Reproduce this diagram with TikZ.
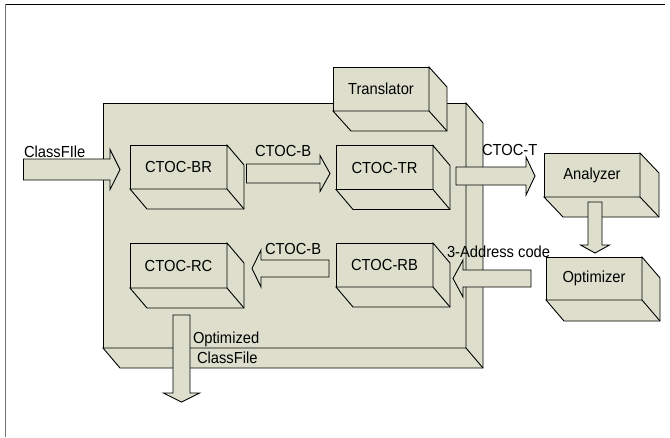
\documentclass[tikz,border=0pt]{standalone}
\usepackage{fontspec}
\setmainfont{Liberation Sans}
\usepackage{graphicx}
\usetikzlibrary{calc}
\definecolor{boxfill}{RGB}{221,223,204}
\newcommand\lbl[1]{\scalebox{0.92}[1]{#1}}
\tikzset{
  boxline/.style={draw=black, line width=0.9pt, fill=boxfill, line join=miter},
  face/.style={boxline, rectangle, inner sep=0pt, outer sep=0pt, font=\fontsize{16}{19}\selectfont},
  arrowbody/.style={draw=black, line width=0.9pt, fill=boxfill, line join=miter},
  tag/.style={inner sep=0pt, outer sep=0pt, font=\fontsize{16}{19}\selectfont},
  frameline/.style={line width=1pt}
}
% 3-D extrusion of a front face node
\newcommand\boxdepth[3]{%
  \filldraw[boxline] (#1.north east) -- ++(#2,#3) -- ($(#1.south east)+(#2,#3)$) -- ($(#1.south west)+(#2,#3)$) -- (#1.south west) -- (#1.south east) -- cycle;
  \draw[boxline] (#1.south east) -- ++(#2,#3);
}
% horizontal block arrow: start, tip, shaft half width, head half width, head length
\newcommand\harrow[5]{%
  \filldraw[arrowbody] let \p1=(#1), \p2=(#2), \n1={sign(\x2-\x1)*#5} in
  (\x1,{\y1+#3pt}) -- ({\x2-\n1*1pt},{\y1+#3pt}) -- ({\x2-\n1*1pt},{\y1+#4pt}) -- (\x2,\y1)
  -- ({\x2-\n1*1pt},{\y1-#4pt}) -- ({\x2-\n1*1pt},{\y1-#3pt}) -- (\x1,{\y1-#3pt}) -- cycle;
}
% vertical block arrow
\newcommand\varrow[5]{%
  \filldraw[arrowbody] let \p1=(#1), \p2=(#2), \n1={sign(\y2-\y1)*#5} in
  ({\x1+#3pt},\y1) -- ({\x1+#3pt},{\y2-\n1*1pt}) -- ({\x1+#4pt},{\y2-\n1*1pt}) -- (\x1,\y2)
  -- ({\x1-#4pt},{\y2-\n1*1pt}) -- ({\x1-#3pt},{\y2-\n1*1pt}) -- ({\x1-#3pt},\y1) -- cycle;
}
\begin{document}
\begin{tikzpicture}[x=1pt,y=-1pt]
\useasboundingbox (0,0) rectangle (670,437);
\fill[white] (0,0) rectangle (670,437);
% frame
\draw[frameline, black] (5,4) -- (665,4);
\draw[frameline, black!55] (5,4) -- (5,437);

% big container box
\node[face, minimum width=363pt, minimum height=245pt] (big) at (284.5,225.5) {};
\boxdepth{big}{17}{20}

% Translator
\node[face, minimum width=96pt, minimum height=44pt] (trans) at (381,89) {\lbl{Translator}};
\boxdepth{trans}{18}{20}

% inner boxes
\node[face, minimum width=97pt, minimum height=44pt] (br) at (178.5,167) {\lbl{CTOC-BR}};
\boxdepth{br}{17}{20}
\node[face, minimum width=97pt, minimum height=44pt] (tr) at (384.5,167.5) {\lbl{CTOC-TR}};
\boxdepth{tr}{17}{20}
\node[face, minimum width=97pt, minimum height=45pt] (rc) at (178.5,265.5) {\lbl{CTOC-RC}};
\boxdepth{rc}{17}{20}
\node[face, minimum width=97pt, minimum height=44pt] (rb) at (384.5,265) {\lbl{CTOC-RB}};
\boxdepth{rb}{17}{20}

% external boxes
\node[face, minimum width=96pt, minimum height=44pt] (an) at (592,175) {\lbl{Analyzer}};
\boxdepth{an}{19}{20}
\node[face, minimum width=96pt, minimum height=43pt] (op) at (594,278.5) {\lbl{Optimizer}};
\boxdepth{op}{18}{21}

% arrow end points
\coordinate (cfS) at (23.5,169.5);  \coordinate (cfE) at (120,169.5);
\coordinate (bS) at (246.5,173.5);  \coordinate (bE) at (330,173.5);
\coordinate (tS) at (456,176);      \coordinate (tE) at (535,176);
\coordinate (aoS) at (595,202);     \coordinate (aoE) at (595,253);
\coordinate (adS) at (531,278.5);   \coordinate (adE) at (453,278.5);
\coordinate (lbS) at (329,268.5);   \coordinate (lbE) at (252,268.5);
\coordinate (ocS) at (181.5,315);   \coordinate (ocE) at (181.5,402);

% block arrows
\harrow{cfS}{cfE}{10.5}{20}{10}
\harrow{bS}{bE}{9.5}{18}{10}
\harrow{tS}{tE}{9}{19}{9}
\varrow{aoS}{aoE}{7}{14.5}{8}
\harrow{adS}{adE}{8.5}{18.5}{10}
\harrow{lbS}{lbE}{8.5}{18.5}{9}
\varrow{ocS}{ocE}{8.5}{18}{9}

% labels
\node[tag, anchor=base west] (lcf) at (24,157) {\lbl{ClassFIle}};
\node[tag, anchor=base west] (lb1) at (255,156) {\lbl{CTOC-B}};
\node[tag, anchor=base west] (lt) at (482,155) {\lbl{CTOC-T}};
\node[tag, anchor=base west] (lad) at (447,257.5) {\lbl{3-Address code}};
\node[tag, anchor=base west] (lb2) at (265,254) {\lbl{CTOC-B}};
\node[tag, anchor=base west] (lo1) at (193,343) {\lbl{Optimized}};
\node[tag, anchor=base west] (lo2) at (197,363) {\lbl{ClassFile}};
\end{tikzpicture}
\end{document}
